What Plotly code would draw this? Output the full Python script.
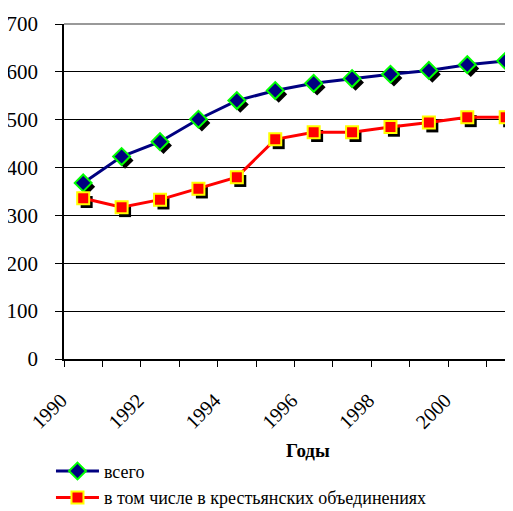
import plotly.graph_objects as go

years = list(range(1990, 2002))
total = [368, 423, 454, 501, 540, 561, 576, 586, 595, 603, 615, 623]
peasant = [336, 317, 333, 356, 380, 459, 474, 474, 485, 494, 505, 505]
tick_years = [1990, 1992, 1994, 1996, 1998, 2000]
tick_text = [str(y) for y in tick_years]
name_total = "всего"
name_peasant = "в том числе в крестьянских объединениях"

FONT = "Liberation Serif"

# shadow offsets (in axis units) for the Excel-like marker shadow
dx = 0.09
dy = 8

fig = go.Figure()

# shadows
for vals, sym in [(peasant, "square"), (total, "diamond")]:
    fig.add_trace(go.Scatter(
        x=[y + dx for y in years], y=[v - dy for v in vals], mode="markers",
        marker=dict(symbol=sym, size=12 if sym == "square" else 13, color="black",
                    line=dict(width=0)),
        showlegend=False, hoverinfo="skip"))

fig.add_trace(go.Scatter(
    x=years, y=total, mode="lines+markers", name=name_total,
    line=dict(color="#000080", width=3),
    marker=dict(symbol="diamond", size=13, color="#000080",
                line=dict(color="#00FF00", width=2))))
fig.add_trace(go.Scatter(
    x=years, y=peasant, mode="lines+markers", name=name_peasant,
    line=dict(color="#FF0000", width=3),
    marker=dict(symbol="square", size=12, color="#FF0000",
                line=dict(color="#FFFF00", width=2))))

# page body has an 8px margin: figure is placed at (8, 8)
fig.update_layout(
    width=505, height=503,
    margin=dict(l=56, r=0, t=16, b=152, autoexpand=False),
    paper_bgcolor="white", plot_bgcolor="white",
    font=dict(family=FONT, size=20, color="black"),
    showlegend=True,
    legend=dict(x=-0.029, xanchor="left", y=-0.28, yanchor="top",
                font=dict(family=FONT, size=18), tracegroupgap=0,
                bgcolor="rgba(0,0,0,0)", itemwidth=43),
    annotations=[dict(text="<b>Годы</b>", xref="paper", yref="paper",
                      x=0.543, y=-0.272, xanchor="center", yanchor="middle",
                      showarrow=False, font=dict(family=FONT, size=19))],
)

fig.update_xaxes(
    range=[1989.5, 2001.19],
    tickmode="array", tickvals=tick_years, ticktext=tick_text,
    tickangle=-45, ticks="", ticklabelshift=-22, ticklabelstandoff=20,
    tickfont=dict(family=FONT, size=20),
    showgrid=False, zeroline=False,
    showline=True, linecolor="black", linewidth=1.5,
    minor=dict(tickmode="array", tickvals=[y - 0.5 for y in years] + [years[-1] + 0.5],
               ticks="outside", ticklen=6, tickcolor="black", tickwidth=1, showgrid=False),
)
fig.update_yaxes(
    range=[0, 700], tickmode="array", tickvals=list(range(0, 701, 100)),
    ticks="outside", ticklen=7, tickcolor="black",
    tickfont=dict(family=FONT, size=21), ticklabelstandoff=13,
    showgrid=True, gridcolor="black", gridwidth=1,
    zeroline=False, showline=True, linecolor="black", linewidth=1.5,
)
# gray top border
fig.add_shape(type="line", xref="paper", yref="paper", x0=0, x1=1, y0=1, y1=1,
              line=dict(color="#999999", width=2))

fig.write_html("out.html")
